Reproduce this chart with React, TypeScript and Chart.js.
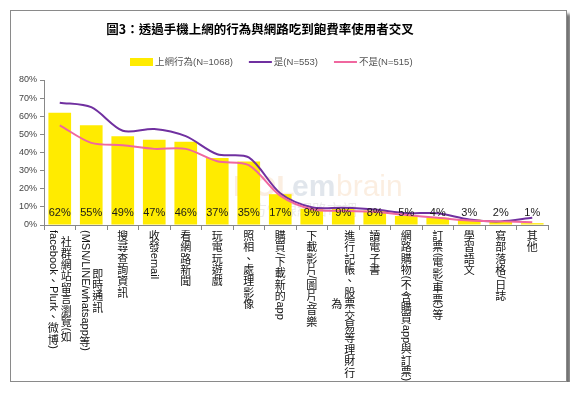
import React, { useEffect, useRef } from "react";
import { Chart, registerables } from "chart.js";

Chart.register(...registerables);

const titleText = "圖3：透過手機上網的行為與網路吃到飽費率使用者交叉";

const categoryLabels: string[][] = [
  ["社群網站留言瀏覽(如", "facebook、Plurk、微博)"],
  ["即時通訊", "(MSN/LINE/whatsapp等)"],
  ["搜尋查詢資訊"],
  ["收發email"],
  ["看網路新聞"],
  ["玩電玩遊戲"],
  ["照相、處理影像"],
  ["購買/下載新的app"],
  ["下載影片/圖片/音樂"],
  ["進行記帳、股票交易等理財行", "為"],
  ["讀電子書"],
  ["網路購物(不含購買app與訂票)"],
  ["訂票(電影/車票)等"],
  ["學習語文"],
  ["寫部落格/日誌"],
  ["其他"],
];

const seriesNames = ["上網行為(N=1068)", "是(N=553)", "不是(N=515)"];

const allUsers = [62, 55, 49, 47, 46, 37, 35, 17, 9, 9, 8, 5, 4, 3, 2, 1];
const yesUsers = [67.5, 65, 52, 53, 49, 39, 37.3, 17.5, 9.8, 9.5, 8.5, 6.5, 6.5, 3, 2, 4];
const noUsers = [55, 45.3, 44, 42, 42, 35.2, 33, 16.2, 8.7, 7.8, 7.3, 5.5, 4, 2.5, 2, 1.5];

const yTicksMax = 80;
const yTickStep = 10;

const CJK_FONT = '"Noto Sans CJK TC", "Noto Sans CJK SC", sans-serif';
const LAT_FONT = '"Liberation Sans", "DejaVu Sans", sans-serif';

function isUpright(ch: string) {
  return /[\u3000-\u9fff\uff00-\uffef]/.test(ch);
}

type Run = { t: string; up: boolean };
function toRuns(s: string): Run[] {
  const runs: Run[] = [];
  for (const ch of Array.from(s)) {
    const up = isUpright(ch);
    if (up) runs.push({ t: ch, up: true });
    else {
      const last = runs[runs.length - 1];
      if (last && !last.up) last.t += ch;
      else runs.push({ t: ch, up: false });
    }
  }
  return runs;
}

const ADV = 11.4;

const decorPlugin = {
  id: "decor",
  beforeDatasetsDraw(chart: any) {
    const ctx = chart.ctx as CanvasRenderingContext2D;
    ctx.save();
    ctx.globalAlpha = 0.35;
    ctx.font = `bold 30px ${LAT_FONT}`;
    ctx.textBaseline = "alphabetic";
    ctx.fillStyle = "#f3cfa8";
    ctx.fillText("EOL", 222, 185);
    ctx.fillStyle = "#a9b6c8";
    ctx.fillText("em", 281, 185);
    ctx.font = `30px ${LAT_FONT}`;
    ctx.fillStyle = "#f3cfa8";
    ctx.fillText("brain", 325, 185);
    ctx.font = `15px ${CJK_FONT}`;
    ctx.fillStyle = "#c7c7c7";
    ctx.fillText("東方快線網路市調", 226, 204);
    ctx.restore();
  },
  afterDraw(chart: any) {
    const ctx = chart.ctx as CanvasRenderingContext2D;
    const xs = chart.scales.x;
    const ys = chart.scales.y;
    ctx.save();

    // Title
    ctx.fillStyle = "#000";
    ctx.font = `bold 12.5px ${CJK_FONT}`;
    ctx.textAlign = "center";
    ctx.textBaseline = "middle";
    ctx.fillText(titleText, 249, 18);

    // Legend
    ctx.font = `9.5px ${LAT_FONT.replace('"Liberation Sans"', '"Liberation Sans", "Noto Sans CJK TC"')}`;
    ctx.textAlign = "left";
    let lx = 119;
    const ly = 51;
    chart.data.datasets.forEach((ds: any, i: number) => {
      if (ds.type === "bar") {
        ctx.fillStyle = ds.backgroundColor;
        ctx.fillRect(lx, ly - 4, 23, 8);
      } else {
        ctx.strokeStyle = ds.borderColor;
        ctx.lineWidth = 2;
        ctx.beginPath();
        ctx.moveTo(lx, ly);
        ctx.lineTo(lx + 23, ly);
        ctx.stroke();
      }
      ctx.fillStyle = "#555";
      ctx.fillText(ds.label, lx + 25, ly);
      lx += 25 + ctx.measureText(ds.label).width + 16;
    });

    // Bar value labels
    const base = ys.getPixelForValue(0);
    ctx.font = `11px ${LAT_FONT}`;
    ctx.textAlign = "center";
    ctx.textBaseline = "middle";
    ctx.fillStyle = "#1a1a1a";
    allUsers.forEach((v, i) => {
      ctx.fillText(`${v}%`, xs.getPixelForValue(i), base - 12);
    });

    // Vertical category labels
    const top = base + 5;
    const colGap = 13;
    ctx.fillStyle = "#111";
    categoryLabels.forEach((cols, i) => {
      const cx = xs.getPixelForValue(i);
      const measured = cols.map((c) => {
        const runs = toRuns(c);
        let h = 0;
        runs.forEach((r) => {
          if (r.up) h += ADV;
          else {
            ctx.font = `11px ${LAT_FONT}`;
            h += ctx.measureText(r.t).width;
          }
        });
        return { runs, h };
      });
      const H = Math.max(...measured.map((m) => m.h));
      const n = cols.length;
      measured.forEach((m, k) => {
        // first column on the right
        const x = cx + ((n - 1) / 2 - k) * colGap;
        let y = top + (H - m.h) / 2;
        m.runs.forEach((r) => {
          if (r.up) {
            ctx.font = `11px ${CJK_FONT}`;
            ctx.textAlign = "center";
            ctx.textBaseline = "middle";
            ctx.fillText(r.t, x, y + ADV / 2);
            y += ADV;
          } else {
            ctx.font = `11px ${LAT_FONT}`;
            const w = ctx.measureText(r.t).width;
            ctx.save();
            ctx.translate(x, y);
            ctx.rotate(Math.PI / 2);
            ctx.textAlign = "left";
            ctx.textBaseline = "middle";
            ctx.fillText(r.t, 0, 0);
            ctx.restore();
            y += w;
          }
        });
      });
    });
    ctx.restore();
  },
};

export default function App() {
  const ref = useRef<HTMLCanvasElement>(null);
  useEffect(() => {
    if (!ref.current) return;
    const chart = new Chart(ref.current, {
      type: "bar",
      data: {
        labels: categoryLabels.map((c) => c.join("")),
        datasets: [
          {
            type: "line",
            label: seriesNames[1],
            data: yesUsers,
            borderColor: "#7030A0",
            backgroundColor: "#7030A0",
            borderWidth: 2,
            pointRadius: 0,
            tension: 0.3,
            order: 2,
          } as any,
          {
            type: "line",
            label: seriesNames[2],
            data: noUsers,
            borderColor: "#F0679F",
            backgroundColor: "#F0679F",
            borderWidth: 2,
            pointRadius: 0,
            tension: 0.3,
            order: 1,
          } as any,
          {
            type: "bar",
            label: seriesNames[0],
            data: allUsers,
            backgroundColor: "#FFEB00",
            barPercentage: 0.72,
            categoryPercentage: 1,
            order: 3,
          } as any,
        ].sort((a: any, b: any) => (a.type === "bar" ? -1 : b.type === "bar" ? 1 : b.order - a.order)),
      },
      options: {
        responsive: false,
        animation: false,
        layout: { padding: { top: 69, right: 18, left: 0, bottom: 0 } },
        plugins: {
          legend: { display: false },
          title: { display: false },
          tooltip: { enabled: false },
        },
        scales: {
          x: {
            type: "category",
            offset: true,
            grid: { offset: true, drawOnChartArea: false, drawTicks: true, tickLength: 5, color: "#888" },
            border: { color: "#888" },
            ticks: { display: false },
            afterFit: (s: any) => {
              s.height = 156;
            },
          },
          y: {
            min: 0,
            max: yTicksMax,
            ticks: {
              stepSize: yTickStep,
              callback: (v: any) => `${v}%`,
              font: { size: 9, family: LAT_FONT },
              color: "#444",
              padding: 3,
            },
            grid: { drawOnChartArea: false, tickLength: 4, color: "#888" },
            border: { color: "#888" },
            afterFit: (s: any) => {
              s.width = 33;
            },
          },
        },
      } as any,
      plugins: [decorPlugin],
    });
    return () => chart.destroy();
  }, []);
  return (
    <div
      style={{
        margin: "2px 0 0 2px",
        width: 555,
        height: 370,
        border: "1px solid #8a8a8a",
        boxShadow: "4px 4px 3px rgba(0,0,0,0.55)",
        background: "#fff",
      }}
    >
      <canvas ref={ref} width={555} height={370} style={{ display: "block" }} />
    </div>
  );
}
